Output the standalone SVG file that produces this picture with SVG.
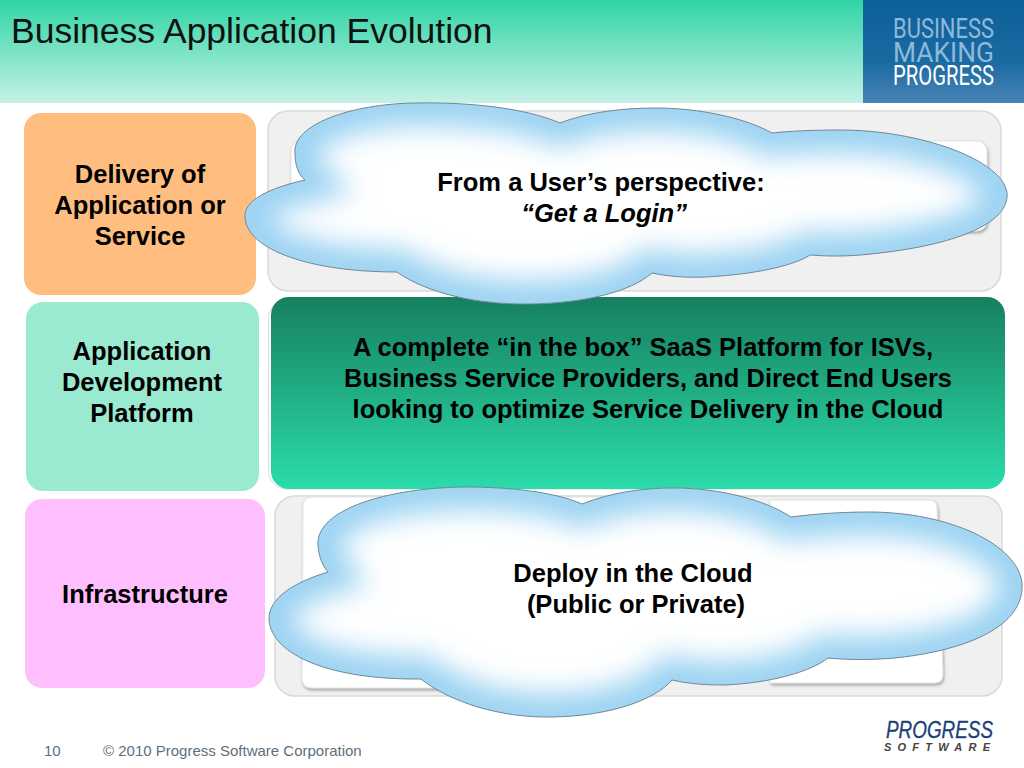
<svg xmlns="http://www.w3.org/2000/svg" width="1024" height="768" viewBox="0 0 1024 768">
<style>
text{font-family:"Liberation Sans",Arial,sans-serif}
.b{font-weight:bold;font-size:25.5px;fill:#000;text-anchor:middle}
.panel{fill:#f0f0f0;stroke:#d9d9d9;stroke-width:1.5}
.inner{fill:#fff;stroke:#e4e4e4;stroke-width:1;filter:url(#sh)}
.foot{font-size:15px;fill:#5f6f7c}
.logo{font-family:"Roboto","Liberation Sans",sans-serif;font-size:27px}
</style>
<defs>
<linearGradient id="hdr" x1="0" y1="0" x2="0" y2="1"><stop offset="0" stop-color="#2fd5a5"/><stop offset="1" stop-color="#c6f1e6"/></linearGradient>
<linearGradient id="blue" x1="0" y1="0" x2="0" y2="1"><stop offset="0" stop-color="#0d5f99"/><stop offset=".6" stop-color="#1a6aa2"/><stop offset="1" stop-color="#4a84b6"/></linearGradient>
<linearGradient id="grn" x1="0" y1="0" x2="0" y2="1"><stop offset="0" stop-color="#168060"/><stop offset="1" stop-color="#2bdcaa"/></linearGradient>
<filter id="sh" x="-5%" y="-5%" width="110%" height="110%"><feDropShadow dx="1" dy="2" stdDeviation="1.5" flood-color="#777" flood-opacity=".6"/></filter>
<filter id="bl" x="-20%" y="-20%" width="140%" height="140%"><feGaussianBlur stdDeviation="14"/></filter>
<path id="c1" d="M560 123C525 108 470 102 415 103C350 104 292 125 295 153C295 165 298 174 305 180C270 188 243 200 245 218C248 250 310 272 397 272C425 292 475 305 530 304C585 303 630 292 652 273C675 278 700 278 720 276C760 273 795 265 810 255C835 257 855 256 880 253C950 245 1010 225 1007 193C1003 160 920 130 840 130C815 130 790 131 772 133C745 118 700 108 655 108C620 108 585 113 560 123Z"/>
<path id="c3" d="M582 504C555 492 510 487 465 487C385 488 318 510 318 543C318 555 322 565 328 572C295 582 268 598 269 620C272 655 330 680 421 679C450 702 500 718 552 717C610 716 655 700 672 680C690 684 705 685 725 685C770 683 810 672 828 658C850 660 870 660 895 658C970 650 1025 625 1022 583C1018 545 950 512 869 512C840 512 815 514 791 517C765 500 720 488 674 488C640 488 610 493 582 504Z"/>
<clipPath id="cc1"><use href="#c1"/></clipPath>
<clipPath id="cc3"><use href="#c3"/></clipPath>
</defs>
<rect width="1024" height="768" fill="#fff"/>
<g id="header">
<rect width="863" height="103" fill="url(#hdr)"/>
<rect x="863" width="161" height="103" fill="url(#blue)"/>
<text x="11" y="43" font-size="35.500" fill="#111">Business Application Evolution</text>
<text class="logo" x="893" y="38" fill="#8db9da" textLength="101" lengthAdjust="spacingAndGlyphs">BUSINESS</text>
<text class="logo" x="893" y="62" fill="#8db9da" textLength="101" lengthAdjust="spacingAndGlyphs">MAKING</text>
<text class="logo" x="893" y="85" fill="#fff" textLength="101" lengthAdjust="spacingAndGlyphs">PROGRESS</text>
</g>
<g id="node-delivery"><rect x="24" y="113" width="232" height="182" rx="17" fill="#ffbd80"/>
<text class="b" x="140" y="183">Delivery of</text><text class="b" x="140" y="214">Application or</text><text class="b" x="140" y="245">Service</text></g>
<g id="node-platform"><rect x="26" y="302" width="233" height="189" rx="17" fill="#99ead0"/>
<text class="b" x="142" y="360">Application</text><text class="b" x="142" y="391">Development</text><text class="b" x="142" y="422">Platform</text></g>
<g id="node-infra"><rect x="25" y="499" width="240" height="189" rx="17" fill="#ffbfff"/>
<text class="b" x="145" y="603">Infrastructure</text></g>
<g id="panel-top"><rect class="panel" x="268" y="111" width="733" height="180" rx="20"/>
<rect class="inner" x="291" y="141" width="696" height="90" rx="10"/></g>
<g id="panel-mid"><rect x="268.500" y="300" width="700" height="189" rx="18" fill="#fff" stroke="#dcdcdc"/>
<rect x="271" y="297" width="734" height="192" rx="18" fill="url(#grn)"/>
<text class="b" x="643" y="356">A complete “in the box” SaaS Platform for ISVs,</text>
<text class="b" x="648" y="387">Business Service Providers, and Direct End Users</text>
<text class="b" x="648" y="418">looking to optimize Service Delivery in the Cloud</text></g>
<g id="panel-bottom"><rect class="panel" x="275" y="496" width="727" height="200" rx="20"/>
<path class="inner" d="M313 497H640V688H312Q302 688 302 678L303 507Q303 497 313 497Z"/>
<path class="inner" d="M770 500H929Q937 500 937 508L943 674Q943 683 935 683H770Z"/></g>
<g id="cloud-top"><use href="#c1" fill="#fff"/>
<g clip-path="url(#cc1)"><use href="#c1" fill="none" stroke="#9ad2f2" stroke-width="46" filter="url(#bl)"/></g>
<use href="#c1" fill="none" stroke="#6f8796" stroke-width="1"/>
<text class="b" x="601" y="191">From a User’s perspective:</text>
<text class="b" x="604" y="222" font-style="italic">“Get a Login”</text></g>
<g id="cloud-bottom"><use href="#c3" fill="#fff"/>
<g clip-path="url(#cc3)"><use href="#c3" fill="none" stroke="#9ad2f2" stroke-width="46" filter="url(#bl)"/></g>
<use href="#c3" fill="none" stroke="#6f8796" stroke-width="1"/>
<text class="b" x="633" y="582">Deploy in the Cloud</text>
<text class="b" x="636" y="613">(Public or Private)</text></g>
<g id="footer">
<text class="foot" x="44" y="756">10</text>
<text class="foot" x="103" y="756">© 2010 Progress Software Corporation</text>
<text x="886" y="738" font-size="23" font-style="italic" fill="#1b3f7a" stroke="#1b3f7a" stroke-width=".3" textLength="107" lengthAdjust="spacingAndGlyphs">PROGRESS</text>
<text x="884" y="751" font-size="11" font-weight="bold" font-style="italic" fill="#444" textLength="106">SOFTWARE</text>
</g>
</svg>
